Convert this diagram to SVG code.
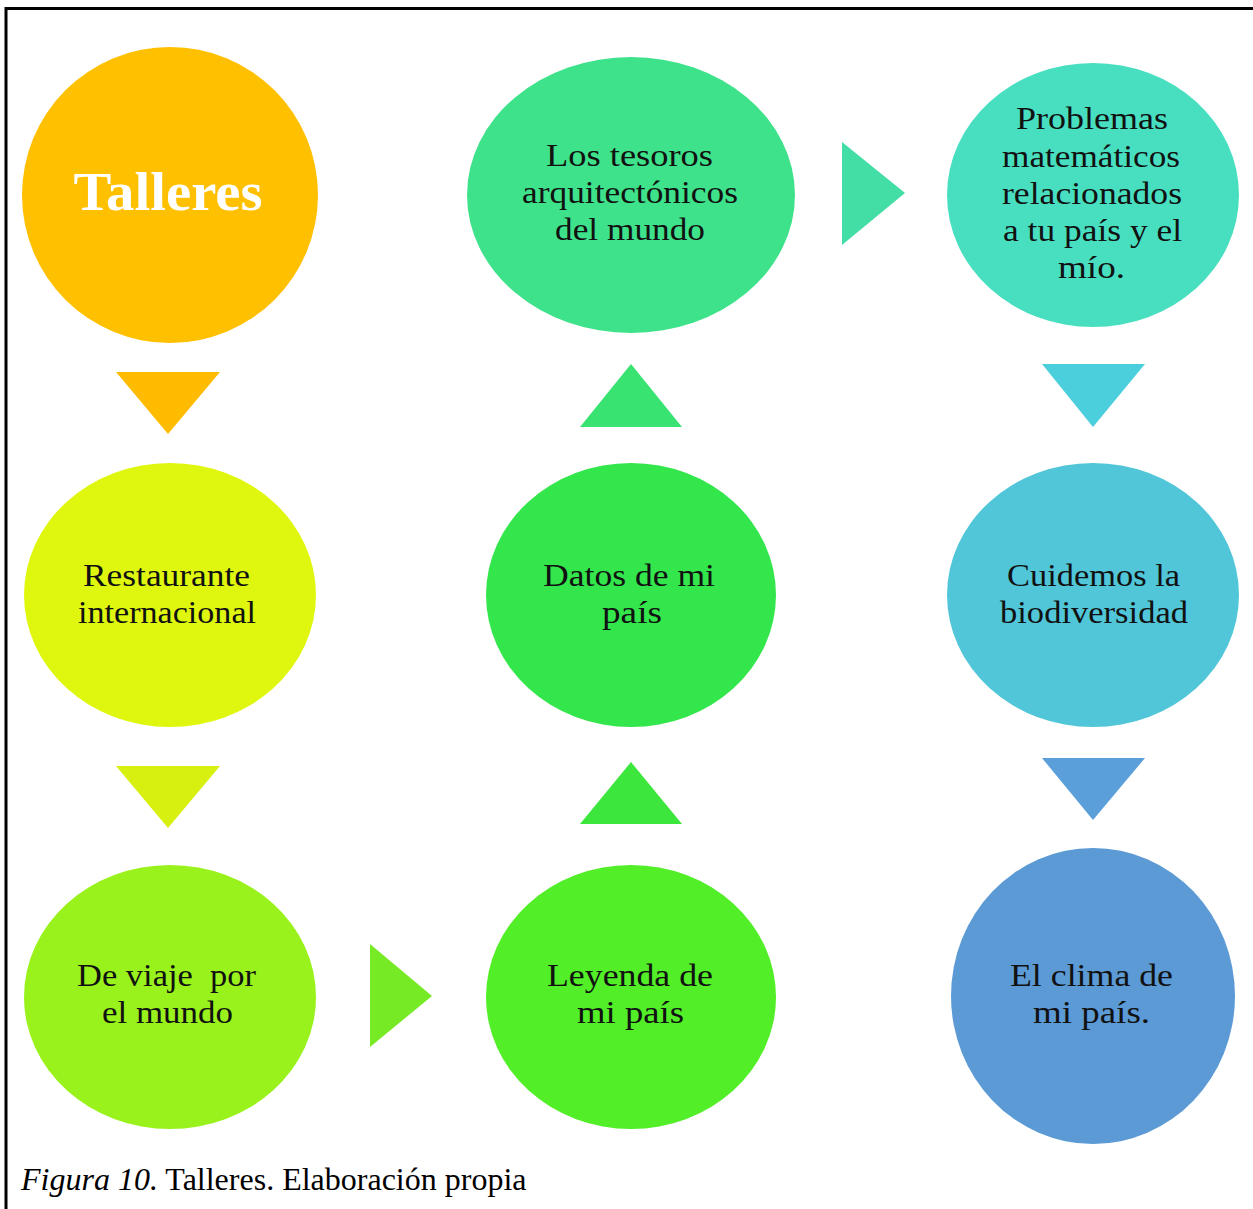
<svg xmlns="http://www.w3.org/2000/svg" width="1253" height="1209" viewBox="0 0 1253 1209">
<style>
.lbl{font-family:"Liberation Serif","Times New Roman",serif;font-size:32px;fill:#111;text-anchor:middle}
.title{font-family:"Liberation Serif","Times New Roman",serif;font-size:54px;font-weight:bold;fill:#fff;text-anchor:middle}
.cap{font-family:"Liberation Serif","Times New Roman",serif;font-size:32px;fill:#000}
</style>
<rect width="1253" height="1209" fill="#fff"/>
<g id="frame" stroke="#000" stroke-width="3" fill="none">
<line x1="6" y1="8.5" x2="1253" y2="8.5"/>
<line x1="6" y1="7" x2="6" y2="1209"/>
</g>
<g id="connectors">
<polygon points="116,372 220,372 168,434" fill="#FFBB00"/>
<polygon points="116,766 220,766 168,828" fill="#D8F010"/>
<polygon points="370,944 432,996 370,1047" fill="#76EA24"/>
<polygon points="580,824 682,824 631,762" fill="#3CE63C"/>
<polygon points="580,427 682,427 631,364" fill="#38E371"/>
<polygon points="842,142 905,193 842,245" fill="#43DDA6"/>
<polygon points="1042,364 1145,364 1093,427" fill="#4CCFDC"/>
<polygon points="1042,758 1145,758 1093,820" fill="#5A9FDA"/>
</g>
<g id="talleres">
<circle cx="170" cy="195" r="148" fill="#FFC000"/>
<text class="title" x="168" y="210" textLength="189" lengthAdjust="spacingAndGlyphs">Talleres</text>
</g>
<g id="restaurante">
<ellipse cx="170" cy="595" rx="146" ry="132" fill="#DFF70F"/>
<text class="lbl" x="166.5" y="586" textLength="167" lengthAdjust="spacingAndGlyphs">Restaurante</text>
<text class="lbl" x="167" y="623" textLength="178" lengthAdjust="spacingAndGlyphs">internacional</text>
</g>
<g id="deviaje">
<ellipse cx="170" cy="997" rx="146" ry="132" fill="#99F21C"/>
<text class="lbl" x="166.5" y="986" textLength="179" lengthAdjust="spacingAndGlyphs" xml:space="preserve">De viaje  por</text>
<text class="lbl" x="167.5" y="1023" textLength="131" lengthAdjust="spacingAndGlyphs">el mundo</text>
</g>
<g id="leyenda">
<ellipse cx="631" cy="997" rx="145" ry="132" fill="#52EE28"/>
<text class="lbl" x="630" y="986" textLength="166" lengthAdjust="spacingAndGlyphs">Leyenda de</text>
<text class="lbl" x="630.5" y="1023" textLength="107" lengthAdjust="spacingAndGlyphs">mi país</text>
</g>
<g id="datos">
<ellipse cx="631" cy="595" rx="145" ry="132" fill="#33E64C"/>
<text class="lbl" x="629" y="586" textLength="172" lengthAdjust="spacingAndGlyphs">Datos de mi</text>
<text class="lbl" x="632" y="623" textLength="60" lengthAdjust="spacingAndGlyphs">país</text>
</g>
<g id="tesoros">
<ellipse cx="631" cy="195" rx="164" ry="138" fill="#3EE28A"/>
<text class="lbl" x="629.5" y="166" textLength="167" lengthAdjust="spacingAndGlyphs">Los tesoros</text>
<text class="lbl" x="630" y="203" textLength="216" lengthAdjust="spacingAndGlyphs">arquitectónicos</text>
<text class="lbl" x="630" y="240" textLength="150" lengthAdjust="spacingAndGlyphs">del mundo</text>
</g>
<g id="problemas">
<ellipse cx="1093" cy="195" rx="146" ry="132" fill="#48DFC1"/>
<text class="lbl" x="1092" y="129" textLength="152" lengthAdjust="spacingAndGlyphs">Problemas</text>
<text class="lbl" x="1091" y="167" textLength="178" lengthAdjust="spacingAndGlyphs">matemáticos</text>
<text class="lbl" x="1092" y="204" textLength="180" lengthAdjust="spacingAndGlyphs">relacionados</text>
<text class="lbl" x="1092.5" y="241" textLength="179" lengthAdjust="spacingAndGlyphs">a tu país y el</text>
<text class="lbl" x="1091.5" y="278" textLength="67" lengthAdjust="spacingAndGlyphs">mío.</text>
</g>
<g id="cuidemos">
<ellipse cx="1093" cy="595" rx="146" ry="132" fill="#50C6D8"/>
<text class="lbl" x="1093.5" y="586" textLength="173" lengthAdjust="spacingAndGlyphs">Cuidemos la</text>
<text class="lbl" x="1094" y="623" textLength="188" lengthAdjust="spacingAndGlyphs">biodiversidad</text>
</g>
<g id="clima">
<ellipse cx="1093" cy="996" rx="142" ry="148" fill="#5B9AD5"/>
<text class="lbl" x="1091.5" y="986" textLength="163" lengthAdjust="spacingAndGlyphs">El clima de</text>
<text class="lbl" x="1091.5" y="1023" textLength="117" lengthAdjust="spacingAndGlyphs">mi país.</text>
</g>
<g id="caption">
<text class="cap" x="21" y="1190"><tspan font-style="italic">Figura 10.</tspan> Talleres. Elaboración propia</text>
</g>
</svg>
